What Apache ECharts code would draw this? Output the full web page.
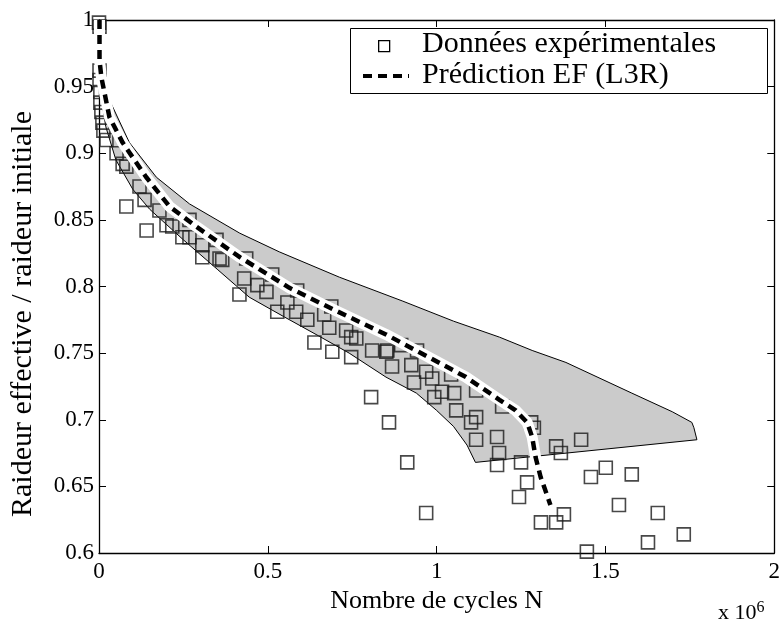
<!DOCTYPE html>
<html>
<head>
<meta charset="utf-8">
<script src="https://cdn.jsdelivr.net/npm/echarts@6/dist/echarts.min.js"></script>
<style>html,body{margin:0;padding:0;background:#fff}#c{width:783px;height:629px}</style>
</head>
<body>
<div id="c"></div>
<script>
// ---- data ----
const xTicks = [0, 0.5, 1, 1.5, 2];
const yTicks = [0.6, 0.65, 0.7, 0.75, 0.8, 0.85, 0.9, 0.95, 1];

// experimental points (N in 1e6 cycles, stiffness ratio)
const expN = [0.0,0.0015,0.0015,0.0015,0.004,0.004,0.007,0.010,0.013,0.022,0.052,0.070,0.081,0.12,0.135,0.081,0.179,0.141,0.200,0.217,0.247,0.268,0.268,0.306,0.306,0.348,0.357,0.365,0.416,0.436,0.430,0.469,0.496,0.513,0.528,0.558,0.587,0.584,0.617,0.638,0.667,0.682,0.688,0.691,0.732,0.747,0.762,0.747,0.806,0.809,0.851,0.854,0.859,0.868,0.895,0.925,0.933,0.942,0.969,0.987,0.993,1.016,1.043,1.052,1.058,1.102,1.117,1.117,1.117,1.179,1.185,1.179,1.194,1.250,1.280,1.288,1.354,1.368,1.428,0.913,0.969,1.268,1.244,1.309,1.354,1.377,1.457,1.501,1.578,1.540,1.655,1.626,1.732,1.445];
const expK = [0.998,0.995,0.962,0.955,0.946,0.938,0.931,0.923,0.917,0.910,0.900,0.892,0.890,0.875,0.865,0.860,0.857,0.842,0.846,0.845,0.837,0.850,0.837,0.831,0.822,0.835,0.821,0.820,0.794,0.821,0.806,0.801,0.796,0.809,0.781,0.788,0.797,0.781,0.775,0.758,0.779,0.769,0.785,0.751,0.767,0.762,0.761,0.747,0.717,0.752,0.751,0.752,0.698,0.740,0.756,0.741,0.728,0.752,0.736,0.731,0.717,0.721,0.734,0.720,0.707,0.698,0.702,0.722,0.685,0.687,0.675,0.666,0.710,0.668,0.698,0.694,0.680,0.675,0.685,0.668,0.630,0.653,0.642,0.623,0.623,0.629,0.657,0.664,0.659,0.636,0.630,0.608,0.614,0.601];

// FE prediction (L3R)
const predN = [0.0015,0.0015,0.007,0.031,0.07,0.14,0.209,0.288,0.417,0.564,0.692,0.85,0.939,1.087,1.186,1.234,1.268,1.283,1.293,1.308,1.322,1.337];
const predK = [1.0,0.97,0.957,0.927,0.908,0.882,0.86,0.845,0.822,0.799,0.783,0.764,0.752,0.732,0.715,0.707,0.698,0.687,0.672,0.657,0.647,0.636];

// scatter band (gray envelope)
const bandUpN = [0.002,0.031,0.09,0.17,0.268,0.417,0.534,0.712,0.9,1.05,1.186,1.283,1.383,1.578,1.698,1.756,1.762,1.771];
const bandUpK = [0.972,0.94,0.908,0.882,0.862,0.84,0.826,0.807,0.789,0.774,0.762,0.752,0.743,0.72,0.706,0.698,0.694,0.685];
const bandLowN = [0.002,0.02,0.05,0.1,0.15,0.25,0.35,0.445,0.55,0.65,0.741,0.85,0.94,1.0,1.05,1.09,1.115,1.771];
const bandLowK = [0.95,0.92,0.895,0.873,0.858,0.835,0.813,0.792,0.777,0.763,0.75,0.732,0.72,0.707,0.695,0.681,0.668,0.685];

const FONT = 'Liberation Serif';
const chart = echarts.init(document.getElementById('c'));

const tickStyle = {show:true, inside:true, length:7, lineStyle:{color:'#000', width:1}};
const lineAx = {show:true, onZero:false, lineStyle:{color:'#000', width:1.3}};

chart.setOption({
  animation:false,
  backgroundColor:'#fff',
  grid:{left:99, top:20, width:676, height:533, containLabel:false},
  xAxis:[
    {type:'value', min:0, max:2, interval:0.5, position:'bottom',
     axisLine:lineAx, axisTick:tickStyle, splitLine:{show:false},
     axisLabel:{fontFamily:FONT, fontSize:23, color:'#000', margin:7},
     name:'Nombre de cycles N', nameLocation:'middle', nameGap:34,
     nameTextStyle:{fontFamily:FONT, fontSize:26, color:'#000'}},
    {type:'value', min:0, max:2, interval:0.5, position:'top',
     axisLine:lineAx, axisTick:tickStyle, splitLine:{show:false}, axisLabel:{show:false}}
  ],
  yAxis:[
    {type:'value', min:0.6, max:1, interval:0.05, position:'left',
     axisLine:lineAx, axisTick:tickStyle, splitLine:{show:false},
     axisLabel:{fontFamily:FONT, fontSize:23, color:'#000', margin:5}},
    {type:'value', min:0.6, max:1, interval:0.05, position:'right',
     axisLine:lineAx, axisTick:tickStyle, splitLine:{show:false}, axisLabel:{show:false}}
  ],
  series:[
    {type:'custom', name:'band', z:1, data:[[bandUpN[0], bandUpK[0]]],
     encode:{x:0, y:1}, silent:true,
     renderItem:function(params, api){
       const pts = [];
       for (let i=0;i<bandUpN.length;i++) pts.push(api.coord([bandUpN[i], bandUpK[i]]));
       for (let i=bandLowN.length-1;i>=0;i--) pts.push(api.coord([bandLowN[i], bandLowK[i]]));
       return {type:'polygon', shape:{points:pts}, style:{fill:'#cbcbcb', stroke:'#000', lineWidth:1}};
     }},
    {type:'scatter', name:'Données expérimentales', z:2, symbol:'rect', symbolSize:13,
     data:expN.map((n,i)=>[n, expK[i]]),
     itemStyle:{color:'rgba(0,0,0,0)', borderColor:'#1a1a1a', borderWidth:1.6}},
    {type:'line', name:'white', z:3, showSymbol:false, silent:true,
     data:predN.map((n,i)=>[n, predK[i]]),
     lineStyle:{color:'#fff', width:11}},
    {type:'line', name:'Prédiction EF (L3R)', z:4, showSymbol:false,
     data:predN.map((n,i)=>[n, predK[i]]),
     lineStyle:{color:'#000', width:4.5, type:[9,6]}}
  ],
  graphic:[
    {type:'text', x:23, y:314, rotation:Math.PI/2, z:11,
     style:{text:'Raideur effective / raideur initiale', font:'30px "Liberation Serif"', fill:'#000', textAlign:'center', textVerticalAlign:'middle'}},
    {type:'rect', left:350, top:28, z:10, shape:{width:417, height:65}, style:{fill:'#fff', stroke:'#000', lineWidth:1}},
    {type:'rect', left:378, top:40, z:11, shape:{width:11, height:11}, style:{fill:'#fff', stroke:'#000', lineWidth:1.3}},
    {type:'line', z:11, shape:{x1:363, y1:76, x2:409, y2:76}, style:{stroke:'#000', lineWidth:4, lineDash:[9,6]}},
    {type:'text', left:422, top:29, z:11, style:{text:'Données expérimentales', font:'30px "Liberation Serif"', fill:'#000'}},
    {type:'text', left:422, top:60, z:11, style:{text:'Prédiction EF (L3R)', font:'30px "Liberation Serif"', fill:'#000'}},
    {type:'text', left:718, top:600, z:11, style:{rich:{a:{fontFamily:FONT, fontSize:22, color:'#000'}, s:{fontFamily:FONT, fontSize:16, color:'#000', verticalAlign:'top', padding:[0,0,10,0]}}, text:'{a|x 10}{s|6}'}}
  ]
});
</script>
</body>
</html>
